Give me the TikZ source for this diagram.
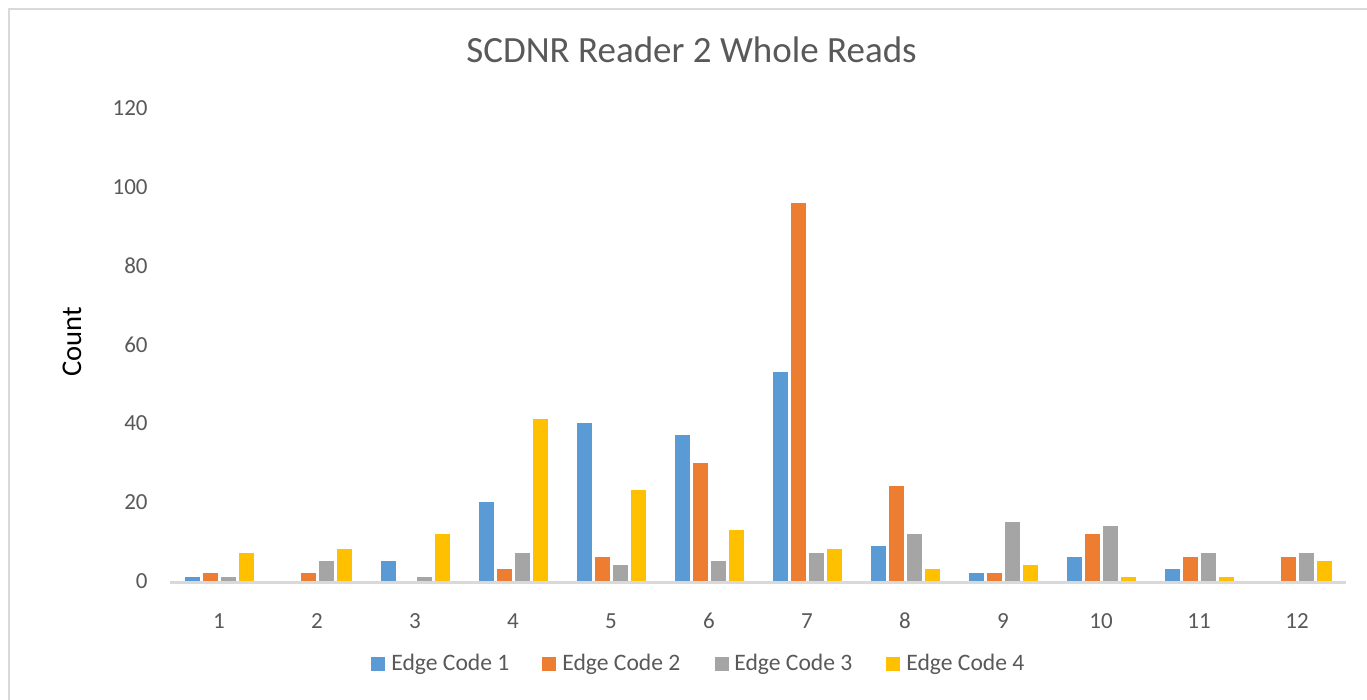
\documentclass[tikz,border=0pt]{standalone}
\usepackage{fontspec}
\setmainfont{Carlito}
\definecolor{cA}{HTML}{5B9BD5}
\definecolor{cB}{HTML}{ED7D31}
\definecolor{cC}{HTML}{A5A5A5}
\definecolor{cD}{HTML}{FFC000}
\definecolor{txt}{HTML}{595959}
\definecolor{ax}{HTML}{D9D9D9}
\begin{document}
\begin{tikzpicture}[x=0.5pt,y=-0.5pt,
  tick/.style={text=txt,font=\fontsize{11.5}{13}\selectfont,inner sep=0pt},
  leg/.style={text=txt,font=\fontsize{11.8}{13}\selectfont,inner sep=0pt,anchor=west},
  bar/.style={draw=white,line width=0.4pt}]
\useasboundingbox (0,0) rectangle (1367,700);
\fill[white] (0,0) rectangle (1367,700);
% chart frame
\draw[ax,line width=1pt] (9,700) -- (9,9) -- (1367,9);
% title
\node[text=txt,font=\fontsize{18.5}{22}\selectfont,inner sep=0pt] (title) at (691.5,50) {SCDNR Reader 2 Whole Reads};
% y axis title
\node[font=\fontsize{14.3}{17}\selectfont,inner sep=0pt,rotate=90] (ytitle) at (72,342) {Count};
% y tick labels
\foreach \v in {0,20,...,120}{
  \node[tick,anchor=east] (yl\v) at (148,{581-\v*3.942}) {\v};
}
% bars
\foreach \k/\a/\b/\c/\d in {1/1/2/1/7,2/0/2/5/8,3/5/0/1/12,4/20/3/7/41,5/40/6/4/23,6/37/30/5/13,7/53/96/7/8,8/9/24/12/3,9/2/2/15/4,10/6/12/14/1,11/3/6/7/1,12/0/6/7/5}{
  \pgfmathsetmacro{\cx}{170+98*(\k-0.5)}
  \ifnum\a>0 \fill[cA] ({\cx-34},581) rectangle ({\cx-19},{581-\a*3.942}); \fi
  \ifnum\b>0 \fill[cB] ({\cx-16},581) rectangle ({\cx-1},{581-\b*3.942}); \fi
  \ifnum\c>0 \fill[cC] ({\cx+2},581) rectangle ({\cx+17},{581-\c*3.942}); \fi
  \ifnum\d>0 \fill[cD] ({\cx+20},581) rectangle ({\cx+35},{581-\d*3.942}); \fi
  \node[tick] (xl\k) at (\cx,621) {\k};
}
% x axis
\coordinate (axl) at (170,582);
\coordinate (axr) at (1346,582);
\draw[ax,line width=1.5pt] (axl) -- (axr);
% legend
\fill[cA] (371,657) rectangle (385,671);
\node[leg] (l1) at (391,664) {Edge Code 1};
\fill[cB] (542,657) rectangle (556,671);
\node[leg] (l2) at (562,664) {Edge Code 2};
\fill[cC] (715,657) rectangle (729,671);
\node[leg] (l3) at (734,664) {Edge Code 3};
\fill[cD] (886,657) rectangle (900,671);
\node[leg] (l4) at (906,664) {Edge Code 4};
\end{tikzpicture}
\end{document}
